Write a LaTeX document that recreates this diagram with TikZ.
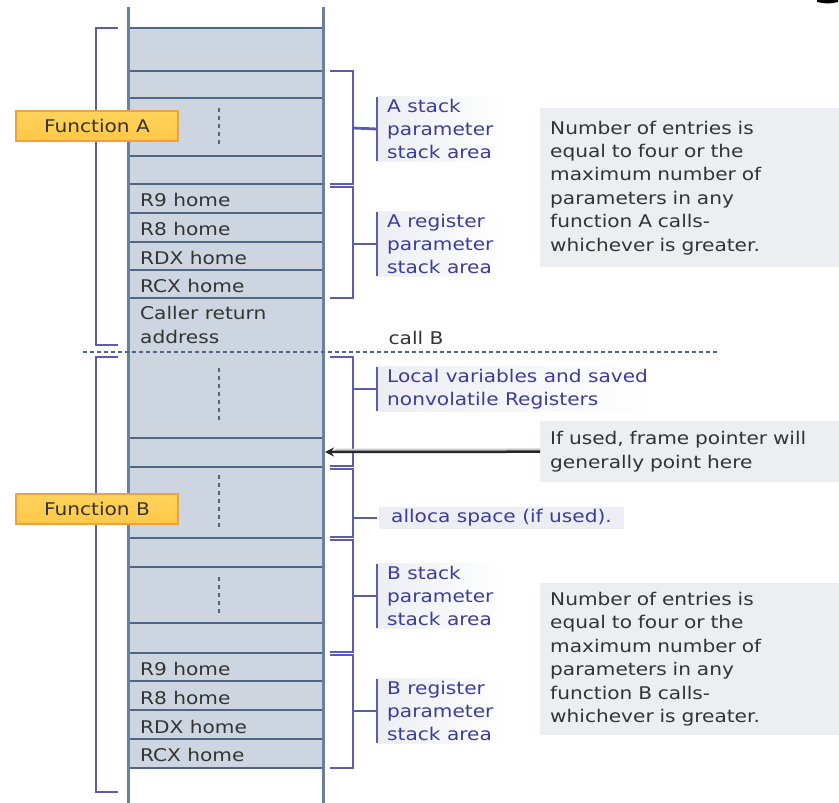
\documentclass[tikz,border=0pt]{standalone}
\usepackage{fontspec}
\setmainfont{DejaVu Sans}[FakeStretch=1.15]
\usetikzlibrary{arrows.meta}
\definecolor{cellfill}{HTML}{CDD5E0}
\definecolor{cellline}{HTML}{4E6584}
\definecolor{colline}{HTML}{6A80A0}
\definecolor{brk}{HTML}{5C5CAC}
\definecolor{bluetxt}{HTML}{3C3C9C}
\definecolor{graytxt}{HTML}{333333}
\definecolor{notefill}{HTML}{ECEEF2}
\definecolor{lblfill}{HTML}{ECEEF4}
\definecolor{fnfill}{HTML}{FFD35C}
\definecolor{fnfillb}{HTML}{FFC847}
\definecolor{fndraw}{HTML}{F0A040}
\newcommand\myfs{\fontsize{17.5}{23.4}\selectfont}
\begin{document}
\begin{tikzpicture}[x=1pt,y=-1pt,
  celltxt/.style={anchor=west,inner sep=0pt,text=graytxt,font=\myfs,align=left},
  rowline/.style={draw=cellline,line width=2.3pt},
  colline/.style={draw=colline,line width=3pt},
  dotline/.style={draw=cellline,line width=1.8pt,dash pattern=on 4pt off 4pt},
  bracket/.style={draw=brk,line width=2.8pt},
  lbl/.style={anchor=west,inner xsep=10pt,inner ysep=2pt,text=bluetxt,font=\myfs,align=left,left color=lblfill,right color=white,shading angle=90},
  notebox/.style={anchor=north west,fill=notefill,text=graytxt,font=\myfs,align=left,inner xsep=10pt,inner ysep=0pt,text width=279pt},
  fnbox/.style={draw=fndraw,line width=1.5pt,top color=fnfill,bottom color=fnfillb,text=graytxt,font=\myfs,minimum width=162pt,minimum height=30pt,inner sep=0pt}
]
\useasboundingbox (0,0) rectangle (839,803);
% artifact top right
\fill[black] (817,0) -- (838,0) -- (838,2) .. controls (828,4) .. (817,2) -- cycle;
% column fill
\fill[cellfill] (128,28) rectangle (323,768);
% row lines
\foreach \yy in {28,71,98,156,184,213,242,270,298,438,467,538,567,623,653,681,710,739,768}
  \draw[rowline] (128,\yy) -- (323,\yy);
% dotted markers
\draw[dotline] (219,108) -- (219,146);
\draw[dotline] (219,368) -- (219,420);
\draw[dotline] (219,475) -- (219,527);
\draw[dotline] (219,577) -- (219,616);
% column sides
\draw[colline] (128,7) -- (128,803);
\draw[colline] (323,7) -- (323,803);
% cell texts
\node[celltxt] (a9) at (140,200) {R9 home};
\node[celltxt] (a8) at (140,229) {R8 home};
\node[celltxt] (adx) at (140,258) {RDX home};
\node[celltxt] (acx) at (140,286) {RCX home};
\node[celltxt] (cra) at (140,325) {Caller return\\address};
\node[celltxt] (b9) at (140,669) {R9 home};
\node[celltxt] (b8) at (140,698) {R8 home};
\node[celltxt] (bdx) at (140,727) {RDX home};
\node[celltxt] (bcx) at (140,755) {RCX home};
% dashed call line
\draw[draw=cellline,line width=1.5pt,dash pattern=on 4pt off 3pt] (83,352) -- (717,352);
\node[text=graytxt,font=\myfs,inner sep=0pt] (callB) at (416,338) {call B};
% left brackets
\draw[bracket] (118,28) -- (96,28) -- (96,345) -- (118,345);
\draw[bracket] (118,357) -- (96,357) -- (96,792) -- (118,792);
% function boxes
\node[fnbox] (fA) at (97,126) {Function A};
\node[fnbox] (fB) at (97,509) {Function B};
% right brackets
\draw[bracket] (330,71) -- (353,71) -- (353,184) -- (330,184);
\draw[bracket] (330,187) -- (353,187) -- (353,298) -- (330,298);
\draw[bracket] (330,357) -- (353,357) -- (353,466) -- (330,466);
\draw[bracket] (330,469) -- (353,469) -- (353,537) -- (330,537);
\draw[bracket] (330,540) -- (353,540) -- (353,652) -- (330,652);
\draw[bracket] (330,655) -- (353,655) -- (353,768) -- (330,768);
% labels
\node[lbl] (lAs) at (377,129) {A stack\\parameter\\stack area};
\node[lbl] (lAr) at (377,244) {A register\\parameter\\stack area};
\node[lbl] (lLv) at (377,389) {Local variables and saved\\nonvolatile Registers};
\node[anchor=west,inner xsep=12pt,inner ysep=3pt,fill=lblfill,text=bluetxt,font=\myfs] (lAl) at (379,518) {alloca space (if used).};
\node[lbl] (lBs) at (377,596) {B stack\\parameter\\stack area};
\node[lbl] (lBr) at (377,711) {B register\\parameter\\stack area};
\foreach \n in {lAs,lAr,lLv,lBs,lBr}
  \draw[bracket] (\n.north west) -- (\n.south west);
\draw[bracket] (353,128) -- (lAs.west);
\draw[bracket] (353,244) -- (lAr.west);
\draw[bracket] (353,389) -- (lLv.west);
\draw[bracket] (353,518) -- (377,518);
\draw[bracket] (353,596) -- (lBs.west);
\draw[bracket] (353,711) -- (lBr.west);
% notes
\node[notebox,minimum height=159pt] (nA) at (540,108) {Number of entries is\\equal to four or the\\maximum number of\\parameters in any\\function A calls-\\whichever is greater.};
\node[notebox,minimum height=61pt] (nFP) at (540,421) {If used, frame pointer will\\generally point here};
\node[notebox,minimum height=152pt] (nB) at (540,583) {Number of entries is\\equal to four or the\\maximum number of\\parameters in any\\function B calls-\\whichever is greater.};
% arrow
\coordinate (fp) at (325,452);
\draw[black!20,line width=4.5pt] ([yshift=1pt]nFP.west) -- ([shift={(10pt,1pt)}]fp);
\draw[-{Stealth[length=9pt,width=9pt]},black!85,line width=2.5pt] (nFP.west) -- (fp);
\end{tikzpicture}
\end{document}
